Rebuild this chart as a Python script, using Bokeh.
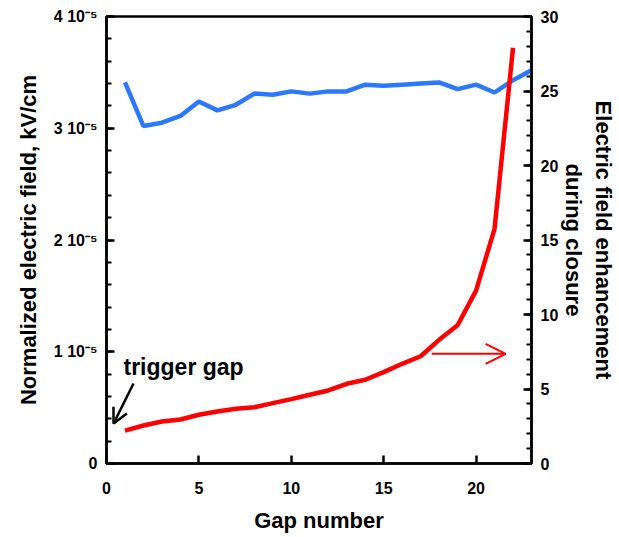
from bokeh.plotting import figure
from bokeh.models import (Range1d, LinearAxis, FixedTicker, SingleIntervalTicker,
                          CustomJSTickFormatter, Arrow, OpenHead, Label)
from bokeh.embed import file_html
from bokeh.resources import INLINE

# ---- data ----
gap = list(range(1, 24))
field_norm = [3.41e-5, 3.02e-5, 3.05e-5, 3.11e-5, 3.24e-5, 3.16e-5, 3.21e-5, 3.31e-5,
              3.30e-5, 3.33e-5, 3.31e-5, 3.33e-5, 3.33e-5, 3.39e-5, 3.38e-5, 3.39e-5,
              3.40e-5, 3.41e-5, 3.35e-5, 3.39e-5, 3.32e-5, 3.43e-5, 3.52e-5]
gap_red = list(range(1, 23))
enhancement = [2.21, 2.55, 2.82, 2.95, 3.27, 3.49, 3.67, 3.78, 4.05, 4.32, 4.61,
               4.90, 5.35, 5.62, 6.13, 6.69, 7.20, 8.30, 9.28, 11.6, 15.75, 27.9]

left_tick_values = [0, 1e-5, 2e-5, 3e-5, 4e-5]
left_tick_labels = ["0", "1 10\u207b\u2075", "2 10\u207b\u2075", "3 10\u207b\u2075", "4 10\u207b\u2075"]
left_minor_values = [i * 2e-6 for i in range(21)]
x_tick_values = [0, 5, 10, 15, 20]

FONT = "Liberation Sans"
BLUE = "#2B78FF"
RED = "#FF0000"

p = figure(width=619, height=537, output_backend="svg", toolbar_location=None,
           x_range=Range1d(0, 23), y_range=Range1d(0, 4.0001e-5),
           min_border_left=106, min_border_right=88, min_border_top=16,
           min_border_bottom=74)
p.extra_y_ranges = {"right": Range1d(0, 30)}
p.grid.visible = False
p.outline_line_color = "black"
p.outline_line_width = 2.5
p.background_fill_color = "white"
p.border_fill_color = "white"

def style_axis(ax):
    ax.axis_line_width = 2.5
    ax.axis_line_color = "black"
    ax.major_tick_line_width = 2.5
    ax.minor_tick_line_width = 2
    ax.major_tick_out = 0
    ax.minor_tick_out = 0
    ax.major_label_text_font = FONT
    ax.major_label_text_font_style = "bold"
    ax.major_label_text_font_size = "16px"
    ax.major_label_text_color = "black"
    ax.axis_label_text_font = FONT
    ax.axis_label_text_font_style = "bold"
    ax.axis_label_text_font_size = "22px"
    ax.axis_label_text_color = "black"

# bottom axis
xa = p.xaxis[0]
style_axis(xa)
xa.ticker = FixedTicker(ticks=x_tick_values)
xa.major_tick_in = 8
xa.minor_tick_line_color = None
xa.major_label_standoff = 18
xa.axis_label = "Gap number"
xa.axis_label_standoff = 11

# left axis
ya = p.yaxis[0]
style_axis(ya)
ya.ticker = FixedTicker(ticks=left_tick_values, minor_ticks=left_minor_values)
ya.formatter = CustomJSTickFormatter(args=dict(labels=left_tick_labels),
                                     code="return labels[Math.round(tick*1e5)];")
ya.major_tick_in = 8
ya.minor_tick_in = 5
ya.major_label_standoff = 9
ya.axis_label = "Normalized electric field, kV/cm"
ya.axis_label_standoff = 10

# right axis
ra = LinearAxis(y_range_name="right")
style_axis(ra)
ra.ticker = SingleIntervalTicker(interval=5, num_minor_ticks=5)
ra.major_tick_in = 8
ra.minor_tick_in = 5
ra.major_label_standoff = 9
ra.axis_label = "Electric field enhancement\nduring closure"
ra.axis_label_standoff = 0
p.add_layout(ra, "right")

# lines
p.line(gap, field_norm, line_color=BLUE, line_width=4.5)
p.line(gap_red, enhancement, line_color=RED, line_width=4.5, y_range_name="right")

# annotations
p.add_layout(Label(x=0.92, y=6.5, y_range_name="right", text="trigger gap",
                   text_font=FONT, text_font_style="bold", text_font_size="23px",
                   text_baseline="middle", text_color="black"))
p.add_layout(Arrow(end=OpenHead(size=15, line_color="black", line_width=2.5),
                   x_start=1.46, y_start=5.37, x_end=0.38, y_end=2.68,
                   line_color="black", line_width=2.5, y_range_name="right"))
p.add_layout(Arrow(end=OpenHead(size=20, line_color=RED, line_width=2),
                   x_start=17.6, y_start=7.36, x_end=21.6, y_end=7.36,
                   line_color=RED, line_width=2, y_range_name="right"))

open("out.html", "w").write(file_html(p, INLINE))
